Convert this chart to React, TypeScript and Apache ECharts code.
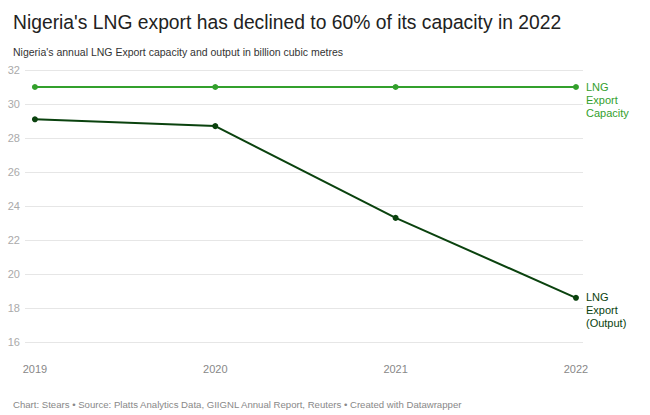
import React, { useEffect, useRef } from "react";
import * as echarts from "echarts";

const years = [2019, 2020, 2021, 2022];
const capacity = [31, 31, 31, 31];
const output = [29.1, 28.7, 23.3, 18.6];
const yTicks = [16, 18, 20, 22, 24, 26, 28, 30, 32];

const capColor = "#33a02c";
const outColor = "#0a420e";
const font = "'Liberation Sans', Arial, sans-serif";

function withEndLabel(vals: number[], text: string, color: string) {
  return vals.map((v, i) =>
    i === vals.length - 1
      ? {
          value: [years[i], v],
          label: {
            show: true,
            position: "right",
            formatter: text,
            color,
            fontFamily: font,
            fontSize: 11,
            lineHeight: 13,
            align: "left",
            verticalAlign: "top",
            offset: [2, -7],
          },
        }
      : { value: [years[i], v] }
  );
}

export default function App() {
  const ref = useRef<HTMLDivElement>(null);
  useEffect(() => {
    const chart = echarts.init(ref.current!, null, { renderer: "svg" });
    chart.setOption({
      animation: false,
      backgroundColor: "#ffffff",
      textStyle: { fontFamily: font },
      title: [
        {
          text: "Nigeria's LNG export has declined to 60% of its capacity in 2022",
          left: 8,
          top: 8,
          textStyle: { fontSize: 19.3, fontWeight: "normal", color: "#222", fontFamily: font },
        },
        {
          text: "Nigeria's annual LNG Export capacity and output in billion cubic metres",
          left: 8,
          top: 41,
          textStyle: { fontSize: 10.5, fontWeight: "normal", color: "#333", fontFamily: font },
        },
        {
          text: "Chart: Stears • Source: Platts Analytics Data, GIIGNL Annual Report, Reuters • Created with Datawrapper",
          left: 8,
          top: 394,
          textStyle: { fontSize: 9.6, fontWeight: "normal", color: "#888", fontFamily: font },
        },
      ],
      grid: { left: 25, right: 67, top: 70, bottom: 73, containLabel: false },
      xAxis: {
        type: "value",
        min: 2018.945,
        max: 2022.039,
        axisLine: { show: false },
        axisTick: { show: false },
        splitLine: { show: false },
        axisLabel: {
          customValues: years,
          color: "#888",
          fontSize: 11,
          margin: 21,
          formatter: (v: number) => String(v),
        },
      },
      yAxis: {
        type: "value",
        min: yTicks[0],
        max: yTicks[yTicks.length - 1],
        interval: 2,
        axisLine: { show: false },
        axisTick: { show: false },
        axisLabel: { color: "#aaa", fontSize: 11, margin: 5 },
        splitLine: { lineStyle: { color: "#e6e6e6", width: 1 } },
      },
      series: [
        {
          type: "line",
          data: withEndLabel(capacity, "LNG\nExport\nCapacity", capColor),
          lineStyle: { color: capColor, width: 2 },
          itemStyle: { color: capColor },
          symbol: "circle",
          symbolSize: 6,
        },
        {
          type: "line",
          data: withEndLabel(output, "LNG\nExport\n(Output)", outColor),
          lineStyle: { color: outColor, width: 2 },
          itemStyle: { color: outColor },
          symbol: "circle",
          symbolSize: 6,
        },
      ],
    });
    return () => chart.dispose();
  }, []);
  return <div ref={ref} style={{ width: 650, height: 415, position: "absolute", left: 0, top: 0 }} />;
}
